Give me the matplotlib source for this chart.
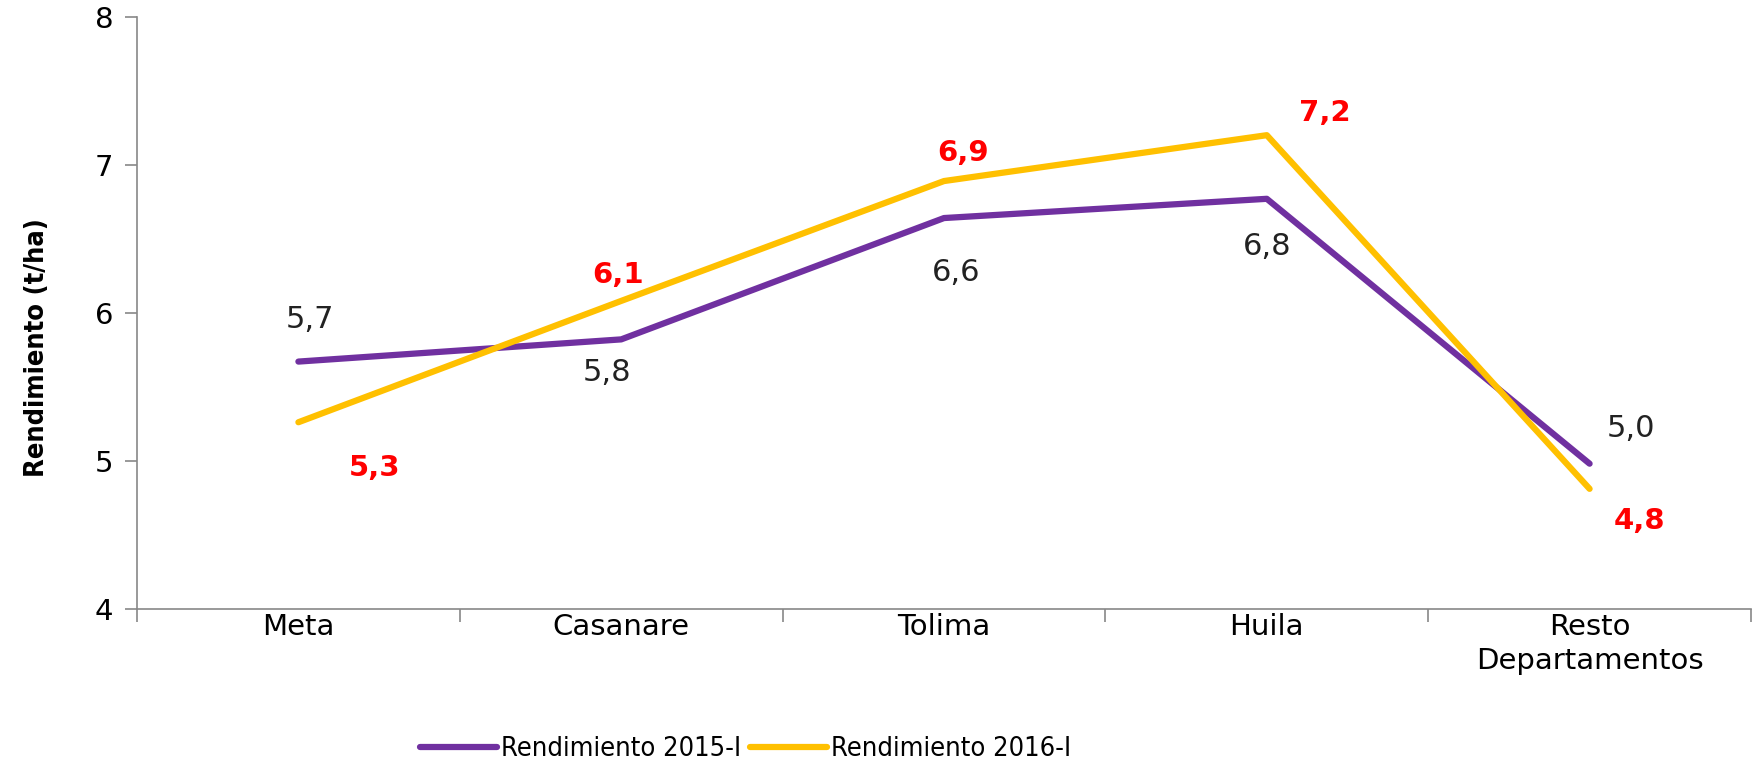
import matplotlib
matplotlib.use("Agg")
import matplotlib.pyplot as plt
from matplotlib.ticker import FixedLocator, NullFormatter
from matplotlib import font_manager

categories = ["Meta", "Casanare", "Tolima", "Huila", "Resto\nDepartamentos"]
rend_2015 = [5.67, 5.82, 6.64, 6.77, 4.98]
rend_2016 = [5.26, 6.08, 6.89, 7.20, 4.81]
labels_2015 = ["5,7", "5,8", "6,6", "6,8", "5,0"]
labels_2016 = ["5,3", "6,1", "6,9", "7,2", "4,8"]
yticks = [4, 5, 6, 7, 8]

off_2015 = [(8, 30), (-10, -24), (9, -39), (0, -34), (30, 25)]
off_2016 = [(55, -33), (-2, 19), (14, 20), (42, 16), (36, -23)]

purple = "#7030A0"
yellow = "#FFC000"

# find a narrow font if available
narrow_path = None
narrow_bold_path = None
for f in font_manager.fontManager.ttflist:
    n = f.fname.lower()
    if ("narrow" in n or "condensed" in n) and "mono" not in n and "serif" not in n.replace("sans", ""):
        if f.weight in ("bold", 700) or "bold" in n:
            if "oblique" not in n and "italic" not in n and narrow_bold_path is None:
                narrow_bold_path = f.fname
        else:
            if "oblique" not in n and "italic" not in n and narrow_path is None:
                narrow_path = f.fname

def fp(path, size, bold=False):
    if path:
        return font_manager.FontProperties(fname=path, size=size)
    return font_manager.FontProperties(family="DejaVu Sans", size=size,
                                       weight="bold" if bold else "normal")

fig = plt.figure(figsize=(17.58, 7.71), dpi=100)
ax = fig.add_axes([137/1758, 1 - 608.7/771, (1751-137)/1758, (608.7-16.8)/771])

x = list(range(len(categories)))
ax.plot(x, rend_2015, color=purple, lw=4.5, solid_capstyle="round", label="Rendimiento 2015-I")
ax.plot(x, rend_2016, color=yellow, lw=4.5, solid_capstyle="round", label="Rendimiento 2016-I")

for xi, v, t, o in zip(x, rend_2015, labels_2015, off_2015):
    ax.annotate(t, (xi, v), xytext=o, textcoords="offset points", ha="center", va="center",
                fontsize=22, color="#222222")
for xi, v, t, o in zip(x, rend_2016, labels_2016, off_2016):
    ax.annotate(t, (xi, v), xytext=o, textcoords="offset points", ha="center", va="center",
                fontsize=21, color="#FF0000", fontweight="bold")

ax.set_xlim(-0.5, len(categories) - 0.5)
ax.set_ylim(4, 8)
ax.set_yticks(yticks)
ax.set_yticklabels([str(v) for v in yticks], fontsize=21)
ax.set_xticks(x)
ax.set_xticklabels(categories, fontsize=21, linespacing=1.3)
ax.xaxis.set_minor_locator(FixedLocator([i + 0.5 for i in range(-1, len(categories))]))
ax.xaxis.set_minor_formatter(NullFormatter())
ax.tick_params(axis="x", which="major", length=0, pad=3)
ax.tick_params(axis="x", which="minor", length=9, color="#888888", width=1.2)
ax.tick_params(axis="y", length=9, color="#888888", width=1.2, pad=8)

for s in ["top", "right"]:
    ax.spines[s].set_visible(False)
for s in ["left", "bottom"]:
    ax.spines[s].set_color("#888888")
    ax.spines[s].set_linewidth(1.2)

ax.set_ylabel("Rendimiento (t/ha)", fontproperties=fp(narrow_bold_path, 19.5, bold=True))
if narrow_bold_path is None:
    ax.yaxis.label.set_fontsize(17)
ax.yaxis.set_label_coords(-0.054, 0.441)

leg = fig.legend(loc="center left", bbox_to_anchor=(420/1758, 0.0285), ncol=2, frameon=False,
                 prop=fp(narrow_path, 19.5 if narrow_path else 17),
                 handlelength=2.85, handletextpad=0.15, columnspacing=0.3, borderpad=0,
                 borderaxespad=0)

fig.savefig("out.png", dpi=100)
